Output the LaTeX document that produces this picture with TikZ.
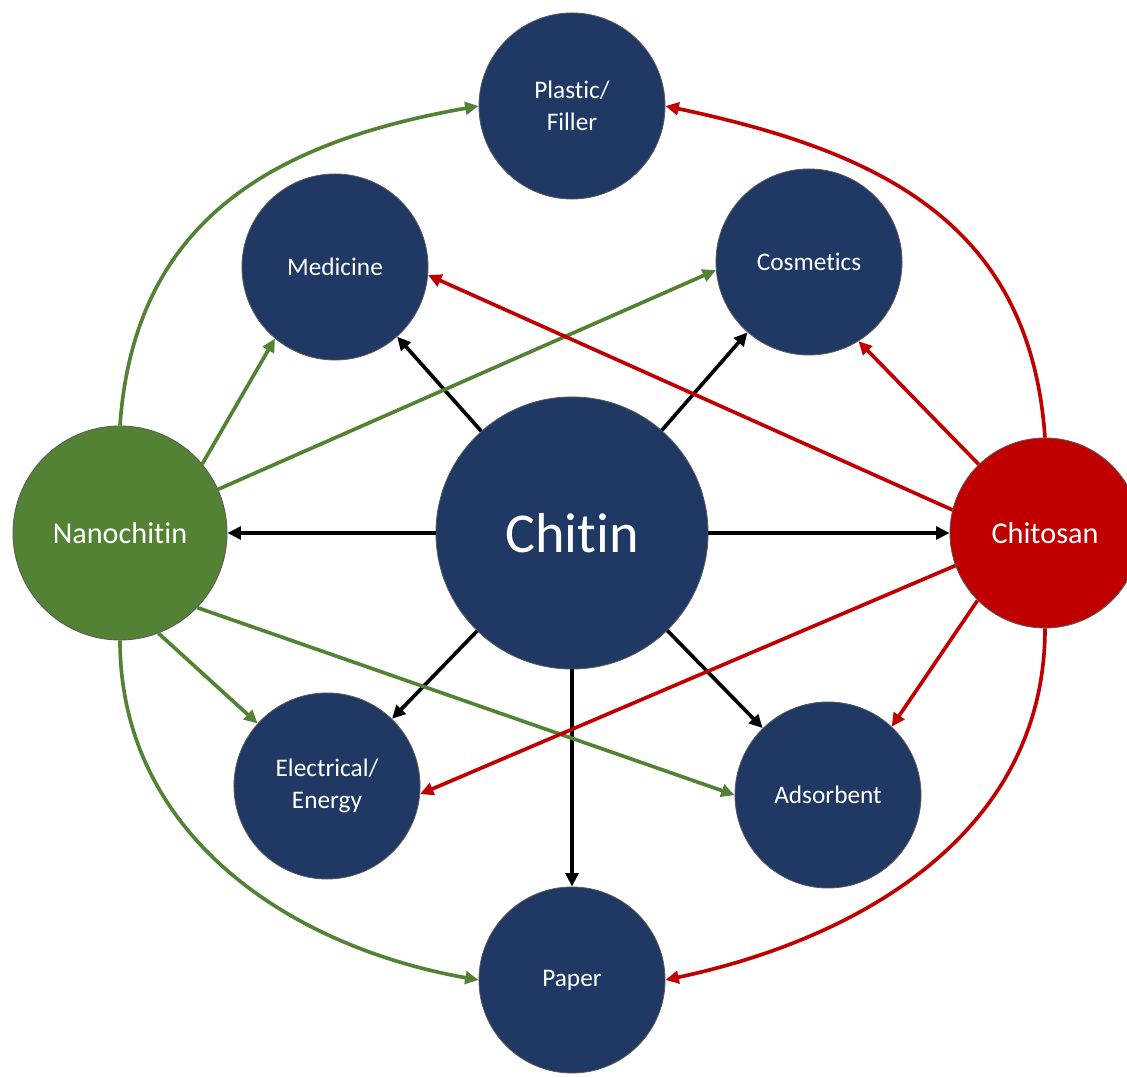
\documentclass[tikz,border=0pt]{standalone}
\usepackage{fontspec}
\setmainfont{Carlito}[Ligatures=NoCommon]
\usetikzlibrary{arrows.meta}
\definecolor{navy}{HTML}{1F3864}
\definecolor{leaf}{HTML}{548235}
\definecolor{brick}{HTML}{C00000}

\begin{document}
\begin{tikzpicture}[x=0.025cm,y=0.025cm,
        every node/.style={circle,draw=black!65,line width=0.6pt,text=white,inner sep=0pt,align=center},
        appbox/.style={fill=navy,minimum size=4.65cm,font=\fontsize{18}{23}\selectfont},
        link/.style={line width=2.6pt,-{Triangle[length=9.5pt,width=9pt]}}]
        \useasboundingbox (0,0) rectangle (1127,1078);
        \clip (0,0) rectangle (1127,1078);

        \node[fill=navy,minimum size=6.8cm,font=\fontsize{40}{48}\selectfont] (chitin) at (572,545) {Chitin};
        \node[fill=leaf,minimum size=5.35cm,font=\fontsize{21.5}{26}\selectfont] (nanochitin) at (120,545) {Nanochitin};
        \node[fill=brick,minimum size=4.75cm,font=\fontsize{21.5}{26}\selectfont] (chitosan) at (1045,545) {Chitosan};

        \node[appbox] (plastic) at (572,972) {Plastic/\\Filler};
        \node[appbox] (medicine) at (335,811) {Medicine};
        \node[appbox] (cosmetics) at (809,816) {Cosmetics};
        \node[appbox] (electrical) at (327,292) {Electrical/\\Energy};
        \node[appbox] (adsorbent) at (828,283) {Adsorbent};
        \node[appbox] (paper) at (572,98) {Paper};

        \foreach \target in {nanochitin,chitosan,medicine,cosmetics,electrical,adsorbent,paper}
        \draw[link,black] (chitin) -- (\target);

        \draw[link,leaf] (nanochitin.north) to[out=86,in=190,looseness=1.1] (plastic.west);
        \draw[link,leaf] (nanochitin.40) -- (medicine.230);
        \draw[link,leaf] (nanochitin.24) -- (cosmetics.185);
        \draw[link,leaf] (nanochitin.291) -- (electrical.138);
        \draw[link,leaf] (nanochitin.316) -- (adsorbent.180);
        \draw[link,leaf] (nanochitin.south) to[out=-90,in=170] (paper.west);

        \draw[link,brick] (chitosan.north) to[out=94,in=-12,looseness=1.1] (plastic.east);
        \draw[link,brick] (chitosan.134) -- (cosmetics.302);
        \draw[link,brick] (chitosan.166) -- (medicine.355);
        \draw[link,brick] (chitosan.225) -- (adsorbent.47);
        \draw[link,brick] (chitosan.200) -- (electrical.355);
        \draw[link,brick] (chitosan.south) to[out=-90,in=12] (paper.east);
    \end{tikzpicture}
\end{document}
